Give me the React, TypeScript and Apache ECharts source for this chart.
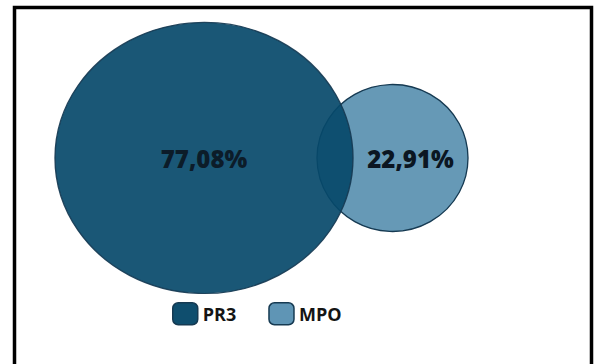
import React, { useEffect, useRef } from "react";
import * as echarts from "echarts";

// Antibody groups and their share of patients (%)
const GROUPS = ["PR3", "MPO"];
const SHARES = [77.08, 22.91];

const FILLS = ["rgb(6,73,106)", "#6699b6"];
const LEGEND_FILLS = ["#0f4e6e", "#5f95b5"];
const OUTLINE = "#163a52";
const TEXT = "#0b1622";

const fmt = (v: number) => v.toFixed(2).replace(".", ",") + "%";

export default function App() {
  const ref = useRef<HTMLDivElement>(null);

  useEffect(() => {
    if (!ref.current) return;
    const chart = echarts.init(ref.current, null, { renderer: "svg" });

    // ellipse footprint of each group (width, height) and label nudge
    const shapes: Record<string, { size: [number, number]; offset: [number, number]; z: number; opacity: number }> = {
      PR3: { size: [298, 271], offset: [0, 0], z: 3, opacity: 0.92 },
      MPO: { size: [151, 147], offset: [18, 0], z: 2, opacity: 1 },
    };

    const series = GROUPS.map((g, i) => ({
      type: "scatter",
      name: g,
      z: shapes[g].z,
      clip: false,
      symbol: "circle",
      data: [{ value: [g, 0, SHARES[i]], symbolSize: shapes[g].size }],
      itemStyle: {
        color: FILLS[i],
        opacity: shapes[g].opacity,
        borderColor: OUTLINE,
        borderWidth: 1.3,
      },
      label: {
        show: true,
        position: "inside",
        offset: shapes[g].offset,
        formatter: (p: any) => fmt(p.value[2]),
        fontFamily: "Open Sans",
        fontWeight: 800,
        fontSize: 24,
        color: TEXT,
      },
      emphasis: { disabled: true },
    }));

    chart.setOption({
      animation: false,
      backgroundColor: "#ffffff",
      grid: { left: 109.75, right: 107.25, top: 22, height: 272 },
      xAxis: {
        type: "category",
        data: GROUPS,
        boundaryGap: true,
        show: false,
      },
      yAxis: { type: "value", min: -1, max: 1, show: false },
      legend: {
        left: 167,
        top: 297,
        icon: "roundRect",
        itemWidth: 25,
        itemHeight: 22,
        itemGap: 32,
        selectedMode: false,
        textStyle: {
          fontFamily: "Open Sans",
          fontWeight: "bold",
          fontSize: 18,
          color: "#141414",
        },
        data: GROUPS.map((g, i) => ({
          name: g,
          itemStyle: {
            color: LEGEND_FILLS[i],
            opacity: 1,
            borderColor: OUTLINE,
            borderWidth: 1.5,
          },
        })),
      },
      graphic: [
        {
          type: "rect",
          shape: { x: 14.5, y: 7.5, width: 577, height: 420 },
          style: { fill: "none", stroke: "#000000", lineWidth: 3.5 },
          silent: true,
          z: 10,
        },
      ],
      series,
    });

    return () => chart.dispose();
  }, []);

  return (
    <div
      ref={ref}
      style={{ position: "fixed", left: 0, top: 0, width: 594, height: 364 }}
    />
  );
}
